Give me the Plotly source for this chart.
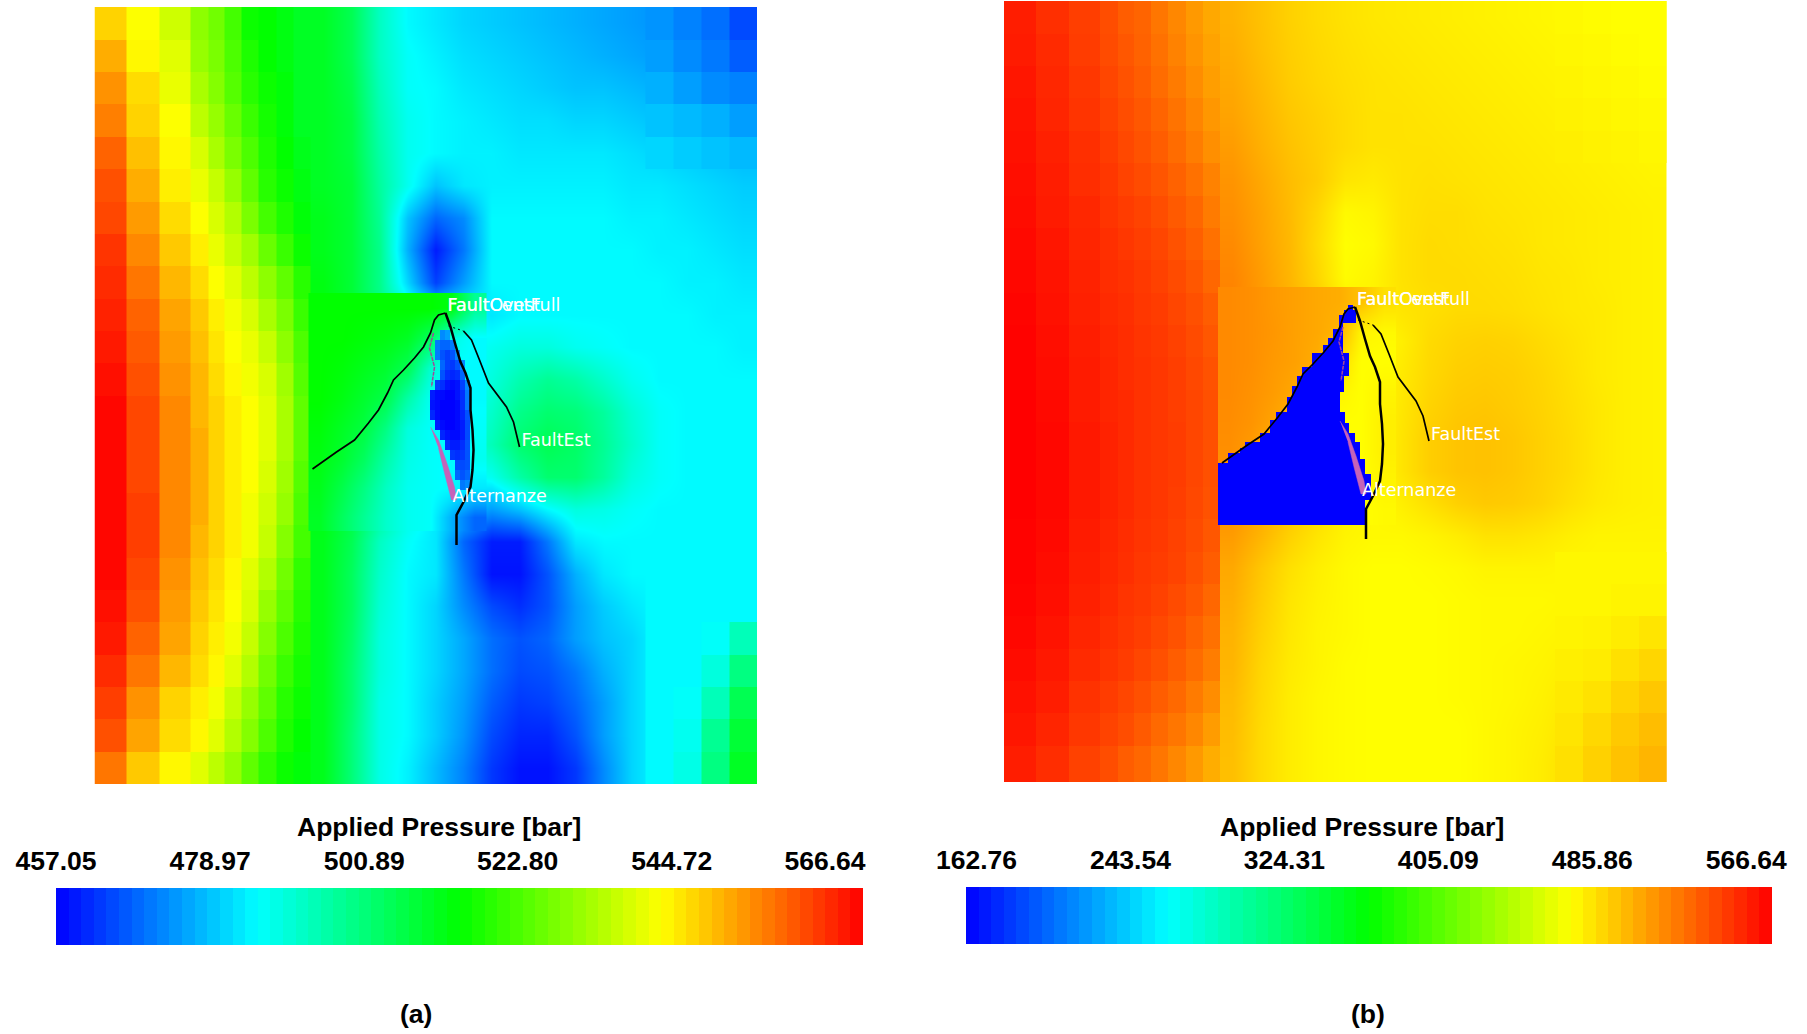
import numpy as np
import plotly.graph_objects as go

N = None
W, H = 1807, 1034

# model grid (model units: metres-like, x to the right, y downwards)
left_x = [0, 32, 65, 96, 114, 130, 147, 164, 182, 199, 216]
mid_x = [214, 243, 271, 299, 327, 355, 383, 411, 439, 467, 495, 523, 551, 579, 607, 635, 662.5]
right_x = [551, 579, 607, 635, 662.5]
rows_y_a = [0, 33, 65, 97, 130, 162, 195, 227, 259, 292, 324, 356, 389, 421, 454, 486, 518, 551, 583, 615, 648, 680, 712, 745, 777]
rows_y_b = [0, 33, 65, 97, 130, 162, 195, 227, 259, 292, 324, 356, 389, 421, 454, 486, 518, 551, 583, 615, 648, 680, 712, 745, 781]
box_x = [214, 236, 258, 280, 302, 324, 346, 368, 392]
box_y = [286, 316, 346, 376, 406, 436, 466, 496, 524]
lens_x = [335.5, 340.5, 345.5, 350.5, 355.5, 360.5, 365.5, 370.5, 375.5]
lens_y = [323, 333, 343, 353, 363, 373, 383, 393, 403, 413, 423, 433, 443, 453, 463, 473, 483]

a_left = [
    [544, 539, 534, 527, 524, 519, 513, 512, 510, 508],
    [548, 540, 536, 528, 525, 520, 515, 512, 510, 508],
    [551, 543, 537, 530, 526, 521, 516, 513, 511, 508],
    [553, 544, 539, 532, 528, 523, 518, 514, 511, 508],
    [556, 546, 540, 535, 530, 525, 520, 515, 512, 509],
    [558, 548, 541, 537, 533, 528, 522, 516, 513, 510],
    [559, 550, 543, 539, 535, 531, 525, 519, 515, 511],
    [561, 552, 545, 541, 537, 533, 529, 523, 518, 513],
    [562, 554, 547, 543, 539, 536, 532, 527, 522, 516],
    [563, 556, 549, 545, 541, 538, 535, 530, 525, 518],
    [564, 557, 550, 546, 542, 539, 537, 533, 527, 520],
    [565, 558, 551, 547, 543, 540, 538, 535, 529, 521],
    [566, 559, 552, 547, 544, 541, 539, 536, 530, 522],
    [566, 559, 552, 548, 544, 541, 539, 536, 530, 522],
    [566, 559, 552, 548, 544, 541, 539, 535, 529, 521],
    [566, 560, 552, 548, 544, 541, 538, 534, 528, 520],
    [566, 560, 552, 547, 544, 541, 538, 533, 526, 519],
    [566, 559, 551, 546, 543, 540, 536, 531, 524, 517],
    [565, 558, 550, 545, 542, 539, 535, 528, 522, 516],
    [564, 556, 549, 544, 541, 538, 533, 526, 520, 515],
    [562, 554, 547, 543, 540, 536, 531, 524, 518, 514],
    [560, 551, 544, 541, 538, 533, 528, 522, 516, 513],
    [558, 549, 543, 540, 536, 531, 526, 520, 515, 512],
    [554, 545, 540, 536, 532, 528, 522, 517, 513, 511],
]
a_mid = [
    [508, 503, 491, 484, 482, 480, 479, 478, 477, 476, 475, 474, 473, 471, 469, 465],
    [508, 503, 491, 485, 483, 481, 480, 479, 478, 477, 476, 475, 474, 472, 470, 467],
    [508, 504, 492, 485, 484, 482, 481, 480, 479, 478, 478, 477, 476, 474, 472, 471],
    [508, 505, 493, 486, 484, 483, 482, 481, 481, 480, 480, 479, 478, 477, 476, 474],
    [508, 505, 494, 486, 484, 483, 483, 482, 482, 482, 482, 481, 480, 479, 478, 477],
    [508, 506, 495, 486, 478, 482, 483, 483, 483, 483, 483, 482, 482, 481, 480, 479],
    [509, 506, 496, 478, 468, 472, 484, 484, 484, 484, 484, 483, 483, 482, 481, 480],
    [509, 506, 497, 476, 460, 470, 484, 484, 484, 484, 484, 484, 483, 483, 482, 481],
    [510, 506, 497, 480, 464, 474, 484, 484, 484, 484, 484, 484, 484, 483, 483, 482],
    [510, 506, 498, 490, 484, 484, 482, 484, 484, 484, 484, 484, 484, 484, 483, 483],
    [510, 506, 499, 490, 484, 484, 486, 488, 488, 486, 485, 484, 484, 484, 484, 483],
    [510, 506, 498, 490, 484, 484, 488, 493, 496, 494, 490, 486, 484, 484, 484, 484],
    [510, 506, 498, 490, 484, 486, 490, 497, 500, 499, 495, 489, 485, 484, 484, 484],
    [510, 506, 498, 490, 486, 488, 492, 500, 503, 501, 496, 490, 485, 484, 484, 484],
    [510, 505, 497, 489, 484, 484, 486, 494, 500, 500, 495, 488, 485, 484, 484, 484],
    [510, 505, 496, 488, 482, 478, 474, 478, 484, 488, 487, 485, 484, 484, 484, 484],
    [509, 503, 491, 485, 482, 468, 460, 460, 470, 482, 484, 484, 484, 484, 484, 484],
    [509, 502, 490, 484, 482, 470, 459, 459, 466, 476, 482, 484, 484, 484, 484, 484],
    [509, 502, 489, 484, 480, 472, 465, 462, 466, 474, 479, 482, 484, 484, 484, 484],
    [509, 501, 488, 484, 480, 475, 469, 466, 468, 474, 478, 480, 484, 484, 485, 492],
    [509, 500, 488, 484, 480, 475, 469, 465, 466, 470, 476, 480, 484, 484, 488, 498],
    [509, 500, 487, 484, 479, 474, 467, 463, 464, 468, 474, 480, 484, 485, 492, 503],
    [509, 499, 487, 484, 479, 473, 465, 461, 461, 466, 474, 480, 484, 486, 496, 506],
    [509, 499, 487, 483, 477, 471, 463, 459, 459, 463, 472, 480, 484, 487, 498, 508],
]
a_box = [
    [512, 512, 512, 512, 512, 512, 510, 496],
    [512, 512, 511, 510, 508, 502, 488, 484],
    [512, 511, 509, 507, 503, 490, 484, 484],
    [512, 510, 507, 504, 494, 486, 484, 484],
    [511, 508, 505, 498, 488, 485, 484, 485],
    [510, 507, 502, 494, 487, 485, 484, 486],
    [509, 504, 498, 491, 486, 485, 484, 482],
    [508, 502, 496, 490, 486, 485, 476, 468],
]
a_lens = [
    [N, N, 472, 474, N, N, N, N],
    [N, 470, 468, 468, 470, N, N, N],
    [N, 470, 466, 464, 466, 472, N, N],
    [N, N, 468, 464, 463, 466, 472, N],
    [N, N, 466, 462, 461, 462, 468, N],
    [N, 464, 462, 459, 458, 459, 464, 472],
    [460, 458, 458, 457, 457, 459, 462, 470],
    [459, 458, 457, 457, 457, 458, 462, 470],
    [461, 458, 457, 457, 457, 458, 461, 466],
    [N, 460, 458, 457, 457, 458, 460, 465],
    [N, N, 461, 459, 458, 458, 460, 465],
    [N, N, N, 462, 460, 460, 462, 466],
    [N, N, N, N, 463, 462, 463, 466],
    [N, N, N, N, N, 465, 465, 466],
    [N, N, N, N, N, 468, 466, 468],
    [N, N, N, N, N, N, 470, 472],
]

b_left = [
    [555, 548, 542, 536, 530, 527, 520, 513, 506, 500],
    [556, 550, 543, 537, 532, 528, 522, 515, 508, 502],
    [558, 551, 545, 539, 534, 530, 524, 518, 511, 504],
    [559, 552, 546, 541, 536, 532, 527, 521, 514, 507],
    [560, 554, 548, 543, 538, 534, 530, 524, 517, 510],
    [561, 555, 549, 545, 540, 537, 533, 528, 522, 515],
    [562, 556, 551, 546, 543, 540, 536, 531, 526, 518],
    [563, 558, 552, 548, 545, 542, 539, 534, 529, 522],
    [564, 559, 553, 549, 547, 544, 541, 537, 532, 526],
    [565, 560, 554, 550, 548, 545, 543, 539, 535, 530],
    [566, 561, 555, 551, 549, 546, 544, 541, 537, 532],
    [566, 562, 556, 552, 549, 547, 545, 542, 538, 534],
    [567, 563, 556, 552, 550, 547, 545, 542, 539, 535],
    [567, 564, 557, 553, 550, 547, 545, 543, 539, 535],
    [567, 564, 557, 553, 550, 547, 545, 543, 539, 535],
    [567, 564, 557, 553, 550, 547, 545, 542, 538, 534],
    [566, 563, 556, 552, 549, 546, 544, 541, 537, 532],
    [566, 562, 555, 551, 548, 545, 543, 540, 535, 530],
    [565, 561, 554, 550, 546, 544, 541, 537, 532, 526],
    [564, 559, 552, 548, 545, 542, 538, 534, 528, 522],
    [562, 557, 550, 546, 543, 539, 535, 530, 524, 517],
    [560, 555, 547, 543, 539, 535, 530, 525, 518, 511],
    [558, 552, 545, 540, 536, 531, 525, 520, 513, 505],
    [555, 549, 541, 536, 530, 526, 520, 513, 506, 498],
]
b_mid = [
    [496, 490, 484, 480, 477, 475, 474, 473, 472, 471, 470, 469, 468, 467, 466, 466],
    [498, 491, 485, 481, 478, 476, 475, 474, 473, 472, 471, 470, 469, 468, 467, 466],
    [500, 493, 486, 482, 479, 477, 476, 475, 474, 473, 472, 471, 470, 469, 468, 467],
    [502, 495, 488, 484, 480, 477, 477, 476, 475, 474, 473, 472, 471, 470, 469, 468],
    [505, 497, 490, 485, 480, 477, 477, 477, 476, 475, 474, 473, 472, 471, 470, 469],
    [508, 500, 492, 486, 476, 474, 477, 478, 477, 476, 475, 474, 473, 472, 471, 470],
    [510, 502, 493, 482, 468, 470, 477, 479, 479, 477, 476, 475, 474, 473, 472, 471],
    [512, 503, 494, 480, 466, 468, 477, 480, 479, 478, 477, 475, 474, 473, 472, 471],
    [514, 505, 495, 482, 467, 470, 477, 480, 480, 479, 478, 476, 475, 473, 472, 471],
    [515, 506, 497, 487, 472, 470, 476, 478, 480, 480, 479, 477, 475, 474, 472, 471],
    [515, 507, 498, 488, 474, 468, 472, 480, 483, 484, 483, 480, 477, 474, 472, 471],
    [515, 507, 498, 488, 474, 468, 474, 481, 485, 486, 485, 482, 478, 474, 472, 471],
    [515, 506, 497, 487, 472, 467, 475, 483, 487, 488, 486, 483, 479, 475, 472, 471],
    [514, 505, 496, 486, 472, 467, 476, 485, 489, 490, 488, 484, 480, 475, 472, 471],
    [512, 503, 494, 484, 471, 468, 476, 485, 489, 490, 488, 484, 480, 475, 472, 471],
    [510, 500, 490, 481, 472, 468, 472, 478, 484, 487, 486, 483, 478, 474, 472, 471],
    [505, 495, 484, 476, 470, 468, 468, 470, 473, 477, 477, 475, 472, 470, 470, 470],
    [500, 488, 478, 472, 468, 466, 466, 467, 468, 470, 470, 470, 469, 469, 469, 469],
    [498, 486, 476, 471, 468, 466, 466, 466, 467, 468, 468, 468, 469, 469, 470, 470],
    [496, 484, 475, 470, 468, 466, 466, 466, 467, 468, 468, 469, 470, 471, 473, 476],
    [495, 482, 474, 470, 467, 466, 466, 466, 467, 468, 469, 470, 472, 473, 478, 482],
    [493, 481, 473, 469, 467, 466, 466, 466, 467, 468, 469, 471, 474, 477, 483, 488],
    [492, 480, 473, 469, 467, 466, 466, 466, 466, 468, 470, 472, 476, 481, 487, 492],
    [491, 480, 473, 469, 467, 466, 466, 466, 466, 468, 470, 473, 478, 484, 490, 495],
]
b_box = [
    [512, 510, 506, 503, 500, 498, 490, 478],
    [512, 510, 507, 503, 500, 495, 470, 468],
    [512, 510, 506, 503, 498, 480, 466, 466],
    [512, 509, 505, 500, 490, 470, 466, 470],
    [511, 508, 502, 495, 480, 466, 466, 472],
    [510, 505, 495, 480, 470, 466, 466, 472],
    [508, 500, 490, 476, 468, 466, 466, 470],
    [505, 495, 485, 475, 468, 466, 466, 468],
]
# lowest-pressure zone of panel (b), one entry per stair row
blue_top = [304, 309, 314, 322, 328, 337, 344, 352, 366, 375, 385, 391, 396, 411, 419, 422, 432, 441, 447, 452, 458, 462, 473, 499]
blue_bot = [309, 314, 322, 328, 337, 344, 352, 366, 375, 385, 391, 396, 411, 419, 422, 432, 441, 447, 452, 458, 462, 473, 499, 524]
blue_lft = [344, 340, 335, 335, 329, 324, 319, 308, 298, 293, 288, 288, 283, 272, 266, 266, 256, 241, 236, 224, 224, 214, 214, 214]
blue_rgt = [349, 352, 352, 339, 339, 339, 339, 345, 345, 340, 340, 336, 336, 341, 341, 345, 351, 356, 356, 356, 361, 361, 367, 361]
blue_tone_x = [214, 225, 236, 247, 258]
blue_tone_y = [473, 524]
blue_tone = [[182, 176, 170, 165]]

fault_w_x = [351, 344, 340, 336, 329, 320, 309, 299, 293, 284, 274, 260, 242, 229, 218]
fault_w_y = [306, 308, 313, 326, 340, 351, 363, 373, 386, 403, 416, 433, 445, 454, 462]
fault_c_x = [351, 356, 361, 366, 371, 376, 376, 378, 379, 378, 376, 369, 362, 362]
fault_c_y = [306, 320, 338, 355, 366, 381, 403, 423, 443, 463, 480, 495, 508, 538]
fault_e_start_x = [354, 369]
fault_e_start_y = [319, 324]
fault_e_x = [369, 377, 385, 394, 412, 419, 425]
fault_e_y = [324, 333, 353, 376, 400, 415, 440]
alt_thin_x = [339, 335, 340, 337]
alt_thin_y = [326, 341, 360, 380]
alt_x = [336, 344, 352, 360, 362, 357, 350, 344]
alt_y = [420, 433, 455, 480, 493, 493, 466, 441]

label_names = ["FaultOvest", "FaultCentFull", "FaultEst", "Alternanze"]
label_x = [353, 353, 427, 358]
label_y = [300, 300, 435, 491]

a_range = [457.05, 566.64]
b_range = [162.76, 566.64]
a_ticks = ["457.05", "478.97", "500.89", "522.80", "544.72", "566.64"]
b_ticks = ["162.76", "243.54", "324.31", "405.09", "485.86", "566.64"]
tick_frac = [0.0, 0.191, 0.382, 0.572, 0.763, 0.953]
tick_frac_b = [0.013, 0.204, 0.395, 0.586, 0.777, 0.968]

RAINBOW = [[0, "#0000ff"], [0.25, "#00ffff"], [0.5, "#00ff00"], [0.75, "#ffff00"], [1, "#ff0000"]]
FONT = "Liberation Sans, Arial, sans-serif"


def dom_x(a, b):
    return [a / W, b / W]


def dom_y(top, bottom):
    return [1 - bottom / H, 1 - top / H]


fig = go.Figure()


def panel(ax, ay, rows_y, left, mid, box, rng):
    base = dict(xaxis=ax, yaxis=ay, colorscale=RAINBOW, zmin=rng[0], zmax=rng[1], showscale=False, hoverinfo="skip")
    fig.add_trace(go.Heatmap(x=mid_x, y=rows_y, z=mid, zsmooth="best", **base))
    fig.add_trace(go.Heatmap(x=left_x, y=rows_y, z=left, **base))
    # the coarse outer columns stay blocky at the top and bottom; the middle rows are smooth
    right = [row[-4:] if (i < 5 or i > 16) else [N, N, N, N] for i, row in enumerate(mid)]
    fig.add_trace(go.Heatmap(x=right_x, y=rows_y, z=right, **base))
    fig.add_trace(go.Heatmap(x=box_x, y=box_y, z=box, zsmooth="best", **base))
    return base


def overlays(ax, ay):
    common = dict(xaxis=ax, yaxis=ay, hoverinfo="skip", showlegend=False)
    fig.add_trace(go.Scatter(x=alt_thin_x, y=alt_thin_y, mode="lines",
                             line=dict(color="#a04a9a", width=1.5, dash="4px,1px"), **common))
    fig.add_trace(go.Scatter(x=alt_x, y=alt_y, mode="lines", fill="toself", fillcolor="#c563b8",
                             line=dict(color="#c563b8", width=0.5), **common))
    fig.add_trace(go.Scatter(x=fault_w_x, y=fault_w_y, mode="lines", line=dict(color="black", width=1.7), **common))
    fig.add_trace(go.Scatter(x=fault_c_x, y=fault_c_y, mode="lines", line=dict(color="black", width=2.5), **common))
    fig.add_trace(go.Scatter(x=fault_e_start_x, y=fault_e_start_y, mode="lines",
                             line=dict(color="black", width=1, dash="2px,3px"), **common))
    fig.add_trace(go.Scatter(x=fault_e_x, y=fault_e_y, mode="lines", line=dict(color="black", width=1.7), **common))
    fig.add_trace(go.Scatter(x=label_x, y=label_y, mode="text", text=label_names, textposition="middle right",
                             textfont=dict(color="white", size=17.5, family="DejaVu Sans"), **common))


def bar(ax, ay, rng):
    edges = np.linspace(rng[0], rng[1], 65)
    levels = (edges[:-1] + edges[1:]) / 2
    fig.add_trace(go.Heatmap(x=edges, y=[0, 1], z=[levels], colorscale=RAINBOW, zmin=rng[0], zmax=rng[1],
                             showscale=False, xaxis=ax, yaxis=ay, hoverinfo="skip"))


base_a = panel("x", "y", rows_y_a, a_left, a_mid, a_box, a_range)
fig.add_trace(go.Heatmap(x=lens_x, y=lens_y, z=a_lens, **base_a))
overlays("x", "y")

base_b = panel("x2", "y2", rows_y_b, b_left, b_mid, b_box, b_range)
poly_x, poly_y = [], []
for t, b, l in zip(blue_top, blue_bot, blue_lft):
    poly_x += [l, l]
    poly_y += [t, b]
for t, b, r in zip(blue_top[::-1], blue_bot[::-1], blue_rgt[::-1]):
    poly_x += [r, r]
    poly_y += [b, t]
fig.add_trace(go.Scatter(x=poly_x, y=poly_y, mode="lines", fill="toself", fillcolor="#0000ff",
                         line=dict(color="#0000ff", width=0), xaxis="x2", yaxis="y2",
                         hoverinfo="skip", showlegend=False))
fig.add_trace(go.Heatmap(x=blue_tone_x, y=blue_tone_y, z=blue_tone, zsmooth="best", **base_b))
overlays("x2", "y2")

bar("x3", "y3", a_range)
bar("x4", "y4", b_range)

hidden = dict(visible=False, showgrid=False, zeroline=False, automargin=False)
tickfont = dict(size=26.5, family=FONT, color="black", weight=700)


def bar_axis(dom, rng, fracs, labels, anchor):
    return dict(domain=dom, range=rng, side="top", anchor=anchor, showgrid=False, zeroline=False, showline=False,
                automargin=False, tickmode="array", tickvals=[rng[0] + f * (rng[1] - rng[0]) for f in fracs],
                ticktext=labels, ticks="outside", ticklen=6, tickcolor="rgba(0,0,0,0)", tickfont=tickfont, tickangle=0)


notes = [("Applied Pressure [bar]", 439, 827), ("Applied Pressure [bar]", 1362, 827), ("(a)", 416, 1014), ("(b)", 1368, 1014)]

fig.update_layout(
    template="none",
    width=W, height=H, margin=dict(l=0, r=0, t=0, b=0, pad=0, autoexpand=False), paper_bgcolor="white", plot_bgcolor="white",
    showlegend=False,
    xaxis=dict(domain=dom_x(94.5, 757), range=[0, 662.5], anchor="y", **hidden),
    yaxis=dict(domain=dom_y(7, 784), range=[777, 0], anchor="x", **hidden),
    xaxis2=dict(domain=dom_x(1004, 1666.5), range=[0, 662.5], anchor="y2", **hidden),
    yaxis2=dict(domain=dom_y(1, 782), range=[781, 0], anchor="x2", **hidden),
    xaxis3=bar_axis(dom_x(56, 863), a_range, tick_frac, a_ticks, "y3"),
    yaxis3=dict(domain=dom_y(888, 945), range=[0, 1], anchor="x3", **hidden),
    xaxis4=bar_axis(dom_x(966, 1772), b_range, tick_frac_b, b_ticks, "y4"),
    yaxis4=dict(domain=dom_y(887, 944), range=[0, 1], anchor="x4", **hidden),
    annotations=[dict(text=t, x=x / W, y=1 - y / H, xref="paper", yref="paper", showarrow=False,
                      xanchor="center", yanchor="middle",
                      font=dict(size=26.5, family=FONT, color="black", weight=700)) for t, x, y in notes],
)

fig.write_html("out.html", config={"displayModeBar": False},
               post_script="document.body.style.margin='0';document.body.style.overflow='hidden';")
